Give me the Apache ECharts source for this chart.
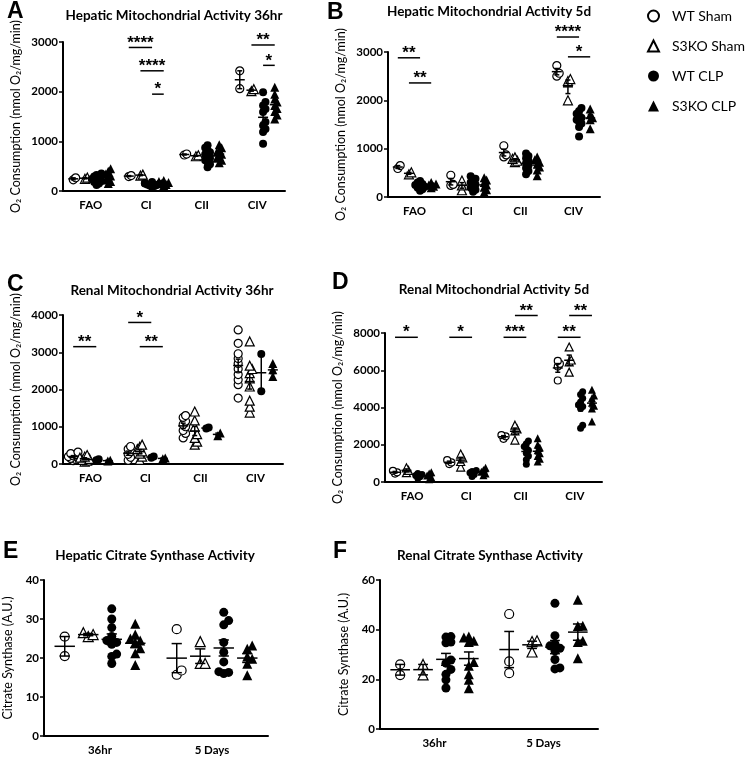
<!DOCTYPE html>
<html><head><meta charset="utf-8">
<script src="https://cdn.jsdelivr.net/npm/echarts@6/dist/echarts.min.js"></script>
<style>html,body{margin:0;padding:0;background:#fff}#c{width:750px;height:758px}</style>
</head><body><div id="c"></div><script>
// ---------- categories / labels ----------
const groupNames = ['WT Sham', 'S3KO Sham', 'WT CLP', 'S3KO CLP'];
const mitoCats = ['FAO', 'CI', 'CII', 'CIV'];
const csCats = ['36hr', '5 Days'];
const o2Label = 'O\u2082 Consumption (nmol O\u2082/mg/min)';
const csLabel = 'Citrate Synthase (A.U.)';

// ---------- Panel A: Hepatic Mitochondrial Activity 36hr ----------
const A_wtSham = [[225, 265], [290, 310], [725, 745], [2060, 2420]];
const A_koSham = [[245, 270], [310, 330], [700, 720], [2010, 2050]];
const A_wtClp = [[120,150,180,200,220,240,260,290,320,350],[80,100,110,120,130,140,150,160,180],[480,540,580,620,660,700,740,780,820,870,920],[950,1190,1250,1320,1390,1590,1650,1720,1790,1990]];
const A_koClp = [[150,190,220,260,300,340,400,450],[110,130,150,170,190,210],[570,620,660,700,740,780,820,870,930],[1450,1530,1600,1660,1720,1790,1850,1950,2090]];
// [category, group1, group2, y, label]
const A_sig = [[1,0,2,2890,'****'],[1,1,3,2420,'****'],[1,2,3,1950,'*'],[3,1,3,2940,'**'],[3,2,3,2530,'*']];

// ---------- Panel B: Hepatic Mitochondrial Activity 5d ----------
const B_wtSham = [[590, 650], [240, 260, 450], [830, 870, 1060], [2500, 2560, 2720]];
const B_koSham = [[470, 510], [140, 240, 340], [720, 750, 790, 820], [2000, 2400, 2440]];
const B_wtClp = [[130,160,190,210,230,250,270,300,330],[110,150,190,230,260,300,340,380,430],[470,540,600,650,700,750,800,850,900],[1250,1450,1520,1560,1600,1640,1680,1720,1780,1840]];
const B_koClp = [[190,220,250,270,300],[100,150,200,250,300,350,400],[440,560,620,680,720,770,830],[1410,1600,1640,1700,1820]];
const B_sig = [[0,0,2,2880,'**'],[0,1,3,2360,'**'],[3,0,2,3310,'****'],[3,1,3,2900,'*']];

// ---------- Panel C: Renal Mitochondrial Activity 36hr ----------
const C_wtSham = [[90,120,150,170,200,220,250,280,320],[100,180,260,330,400,470],[700,820,900,1000,1060,1150,1250,1300],[1770,2130,2260,2400,2550,2700,2830,2960,3240,3600]];
const C_koSham = [[60,90,110,140,170,200,240],[110,200,280,340,400,460,520],[520,600,700,800,1000,1170,1410],[1380,1540,1700,2080,2300,2440,2550,2640,3290]];
const C_wtClp = [[100, 130], [170, 200], [950, 980], [1950, 2950]];
const C_koClp = [[80, 100], [140, 160], [760, 830], [2350, 2530, 2700]];
const C_sig = [[0,0,2,3150,'**'],[1,0,2,3800,'*'],[1,1,3,3150,'**']];

// ---------- Panel D: Renal Mitochondrial Activity 5d ----------
const D_wtSham = [[450, 520, 600], [960, 1050, 1170], [2320, 2450, 2520], [5450, 6200, 6350, 6500]];
const D_koSham = [[500, 620, 760], [800, 1100, 1300, 1500], [2250, 2750, 2850, 3050], [5900, 6450, 6550, 7250]];
const D_wtClp = [[200,280,350,400,450],[300,400,500,560,620],[950,1200,1400,1550,1700,1800,1900,2050,2200],[2880,3050,3950,4050,4150,4300,4500,4700,4850]];
const D_koClp = [[150,250,350,450,530],[360,450,550,650,770],[1100,1250,1400,1550,1700,1850,2000,2350],[3250,3950,4100,4250,4500,4650,4950]];
const D_sig = [[0,0,2,7770,'*'],[1,0,2,7770,'*'],[2,0,2,7770,'***'],[2,1,3,8940,'**'],[3,0,2,7770,'**'],[3,1,3,8940,'**']];

// ---------- Panel E: Hepatic Citrate Synthase Activity ----------
const E_wtSham = [[20.5, 25.5], [15.7, 16.8, 27.4]];
const E_koSham = [[25.5, 26, 26.5], [18.6, 18.6, 24.2]];
const E_wtClp = [[18.6,20.4,21,23.5,24,24.5,25.5,27.8,30,32.6],[16,16.3,16.5,19,21.5,24,28.5,29.6,31.7]];
const E_koClp = [[18.2,21.2,22.5,24,24.5,25,26,28.8],[15.6,18.5,19.8,20.4,22.4,23.2]];

// ---------- Panel F: Renal Citrate Synthase Activity ----------
const F_wtSham = [[21.7, 26], [22.5, 27.2, 46.3]];
const F_koSham = [[21.8, 26], [31, 35.2, 35.5]];
const F_wtClp = [[16.5,19.8,22,24,26.5,27.8,34.7,35,37,37.2],[24.2,24.6,28,31.5,32.5,33.5,34.3,37.6,50.6]];
const F_koClp = [[16.4,19.8,22,25.5,27,35,35.5,36.8,37.2],[28.5,35,35.5,41.5,41.6,52]];

// ---------- layout / style ----------
const groupOffset = [-0.315, -0.105, 0.105, 0.315];
const groupStyle = [
  {symbol: 'circle', itemStyle: {color: '#fff', borderColor: '#000', borderWidth: 1.2, opacity: 1}},
  {symbol: 'triangle', itemStyle: {color: '#fff', borderColor: '#000', borderWidth: 1.2, opacity: 1}},
  {symbol: 'circle', itemStyle: {color: '#000', borderColor: '#000', borderWidth: 0, opacity: 1}},
  {symbol: 'triangle', itemStyle: {color: '#000', borderColor: '#000', borderWidth: 0, opacity: 1}}
];
const FONT = 'Lato, "Open Sans", sans-serif';

const panels = [
  {letter: 'A', lx: 7, ly: 0, title: 'Hepatic Mitochondrial Activity 36hr', tx: 174, ty: 16,
   grid: {left: 63, top: 42, width: 222, height: 149}, cats: mitoCats, ymax: 3000, yint: 1000,
   groups: [A_wtSham, A_koSham, A_wtClp, A_koClp], sig: A_sig, sym: 8, yname: o2Label, nameGap: 41, spreadK: 0.3},
  {letter: 'B', lx: 327, ly: 1, title: 'Hepatic Mitochondrial Activity 5d', tx: 489, ty: 12,
   grid: {left: 388, top: 52, width: 212, height: 145}, cats: mitoCats, ymax: 3000, yint: 1000,
   groups: [B_wtSham, B_koSham, B_wtClp, B_koClp], sig: B_sig, sym: 8, yname: o2Label, nameGap: 41, spreadK: 0.3},
  {letter: 'C', lx: 7, ly: 273, title: 'Renal Mitochondrial Activity 36hr', tx: 172, ty: 291,
   grid: {left: 63, top: 315, width: 220, height: 149}, cats: mitoCats, ymax: 4000, yint: 1000,
   groups: [C_wtSham, C_koSham, C_wtClp, C_koClp], sig: C_sig, sym: 8, yname: o2Label, nameGap: 41, spreadK: 0.3},
  {letter: 'D', lx: 332, ly: 271, title: 'Renal Mitochondrial Activity 5d', tx: 494, ty: 290,
   grid: {left: 385, top: 333, width: 217, height: 149}, cats: mitoCats, ymax: 8000, yint: 2000,
   groups: [D_wtSham, D_koSham, D_wtClp, D_koClp], sig: D_sig, sym: 7, yname: o2Label, nameGap: 41, spreadK: 0.3},
  {letter: 'E', lx: 3, ly: 540, title: 'Hepatic Citrate Synthase Activity', tx: 155, ty: 556,
   grid: {left: 41, top: 580, width: 227, height: 156}, cats: csCats, ymax: 40, yint: 10,
   groups: [E_wtSham, E_koSham, E_wtClp, E_koClp], sig: [], sym: 9, yname: csLabel, nameGap: 30, spreadK: 0.55},
  {letter: 'F', lx: 333, ly: 540, title: 'Renal Citrate Synthase Activity', tx: 490, ty: 556,
   grid: {left: 380, top: 580, width: 218, height: 149}, cats: csCats, ymax: 60, yint: 20,
   groups: [F_wtSham, F_koSham, F_wtClp, F_koClp], sig: [], sym: 9, yname: csLabel, nameGap: 30, spreadK: 0.55}
];

// spread overlapping points horizontally (like a GraphPad scatter column)
function spread(vals, pxPerUnit, sym, bandPx, k) {
  const order = vals.map((v, i) => i).sort((a, b) => vals[a] - vals[b]);
  const slots = [0, 1, -1, 2, -2, 3, -3];
  const placed = [];
  const off = new Array(vals.length).fill(0);
  order.forEach(i => {
    let chosen = slots[slots.length - 1];
    for (const s of slots) {
      const clash = placed.some(p => p.s === s && Math.abs(vals[p.i] - vals[i]) * pxPerUnit < sym * 0.6);
      if (!clash) { chosen = s; break; }
    }
    placed.push({i: i, s: chosen});
    off[i] = chosen * (sym * k) / bandPx;
  });
  return off;
}
function mean(a) { return a.reduce((s, v) => s + v, 0) / a.length; }
function sem(a) {
  const m = mean(a);
  const sd = Math.sqrt(a.reduce((s, v) => s + (v - m) * (v - m), 0) / (a.length - 1));
  return sd / Math.sqrt(a.length);
}

const option = {
  animation: false,
  backgroundColor: '#fff',
  grid: [], xAxis: [], yAxis: [], series: [], graphic: [],
  legend: {
    data: groupNames, orient: 'vertical', left: 647, top: 9, padding: 0,
    itemWidth: 11, itemHeight: 11, itemGap: 16, selectedMode: false,
    textStyle: {fontFamily: FONT, fontSize: 14, color: '#000', padding: [0, 0, 0, 8]}
  }
};

panels.forEach((p, pi) => {
  const n = p.cats.length;
  option.grid.push(Object.assign({containLabel: false}, p.grid));
  // visible category axis
  option.xAxis.push({
    type: 'category', gridIndex: pi, data: p.cats, boundaryGap: true,
    axisLine: {onZero: false, lineStyle: {color: '#000', width: 2}},
    axisTick: {alignWithLabel: true, length: 4, lineStyle: {color: '#000', width: 1.5}},
    axisLabel: {color: '#000', fontWeight: 'bold', fontSize: 11.5, fontFamily: FONT, margin: 8},
    splitLine: {show: false}
  });
  // hidden value axis for point placement
  option.xAxis.push({
    type: 'value', gridIndex: pi, min: -0.5, max: n - 0.5, show: false,
    axisLine: {show: false, onZero: false}, splitLine: {show: false}
  });
  option.yAxis.push({
    type: 'value', gridIndex: pi, min: 0, max: p.ymax, interval: p.yint,
    name: p.yname, nameLocation: 'middle', nameGap: p.nameGap, nameRotate: 90,
    nameTextStyle: {color: '#000', fontSize: 12.5, fontFamily: FONT},
    axisLine: {show: true, onZero: false, lineStyle: {color: '#000', width: 2}},
    axisTick: {show: true, length: 4, lineStyle: {color: '#000', width: 1.5}},
    axisLabel: {color: '#000', fontWeight: 'bold', fontSize: 11.5, fontFamily: FONT, margin: 5,
      formatter: function (v) { return String(v); }},
    splitLine: {show: false}
  });
  const xi = pi * 2 + 1, yi = pi;
  const pxPerUnit = p.grid.height / p.ymax;
  const bandPx = p.grid.width / n;
  const stats = [];
  p.groups.forEach((g, gi) => {
    const pts = [];
    g.forEach((vals, ci) => {
      const off = spread(vals, pxPerUnit, p.sym, bandPx, p.spreadK);
      vals.forEach((v, k) => pts.push([ci + groupOffset[gi] + off[k], v]));
      stats.push([ci + groupOffset[gi], mean(vals), sem(vals)]);
    });
    option.series.push(Object.assign({
      type: 'scatter', name: groupNames[gi], xAxisIndex: xi, yAxisIndex: yi,
      symbolSize: gi % 2 === 1 ? p.sym + 1 : p.sym, data: pts, z: 3, silent: true
    }, JSON.parse(JSON.stringify(groupStyle[gi]))));
  });
  // mean +/- SEM
  option.series.push({
    type: 'custom', xAxisIndex: xi, yAxisIndex: yi, data: stats, z: 5, silent: true,
    encode: {x: 0, y: 1},
    renderItem: function (params, api) {
      const x = api.value(0), m = api.value(1), s = api.value(2);
      const c = api.coord([x, m]);
      const top = api.coord([x, m + s])[1], bot = api.coord([x, m - s])[1];
      const hw = Math.max(5, bandPx * 0.09);
      const cw = hw * 0.5;
      const st = {stroke: '#000', lineWidth: 1.5};
      return {type: 'group', children: [
        {type: 'line', shape: {x1: c[0] - hw, y1: c[1], x2: c[0] + hw, y2: c[1]}, style: st},
        {type: 'line', shape: {x1: c[0], y1: top, x2: c[0], y2: bot}, style: st},
        {type: 'line', shape: {x1: c[0] - cw, y1: top, x2: c[0] + cw, y2: top}, style: st},
        {type: 'line', shape: {x1: c[0] - cw, y1: bot, x2: c[0] + cw, y2: bot}, style: st}
      ]};
    }
  });
  // significance bars
  if (p.sig.length) {
    const sigData = p.sig.map(s => [s[0] + groupOffset[s[1]], s[0] + groupOffset[s[2]], s[3]]);
    const labels = p.sig.map(s => s[4]);
    option.series.push({
      type: 'custom', xAxisIndex: xi, yAxisIndex: yi, data: sigData, z: 6, silent: true, clip: false,
      encode: {x: [0, 1], y: 2},
      renderItem: function (params, api) {
        const p1 = api.coord([api.value(0), api.value(2)]);
        const p2 = api.coord([api.value(1), api.value(2)]);
        return {type: 'group', children: [
          {type: 'line', shape: {x1: p1[0], y1: p1[1], x2: p2[0], y2: p2[1]}, style: {stroke: '#000', lineWidth: 1.5}},
          {type: 'text', style: {text: labels[params.dataIndex], x: (p1[0] + p2[0]) / 2, y: p1[1] + 4,
            align: 'center', verticalAlign: 'bottom', font: 'bold 17px "Liberation Sans", Arial, sans-serif', fill: '#000'}}
        ]};
      }
    });
  }
  // panel letter and title
  option.graphic.push({type: 'text', left: p.lx, top: p.ly, silent: true,
    style: {text: p.letter, font: 'bold 23px "Liberation Sans", Arial, sans-serif', fill: '#000'}});
  option.graphic.push({type: 'text', x: p.tx, y: p.ty, silent: true,
    style: {text: p.title, font: 'bold 13.5px ' + FONT, fill: '#000', align: 'center', verticalAlign: 'middle'}});
});

const chart = echarts.init(document.getElementById('c'), null, {renderer: 'canvas'});
chart.setOption(option);
</script></body></html>
